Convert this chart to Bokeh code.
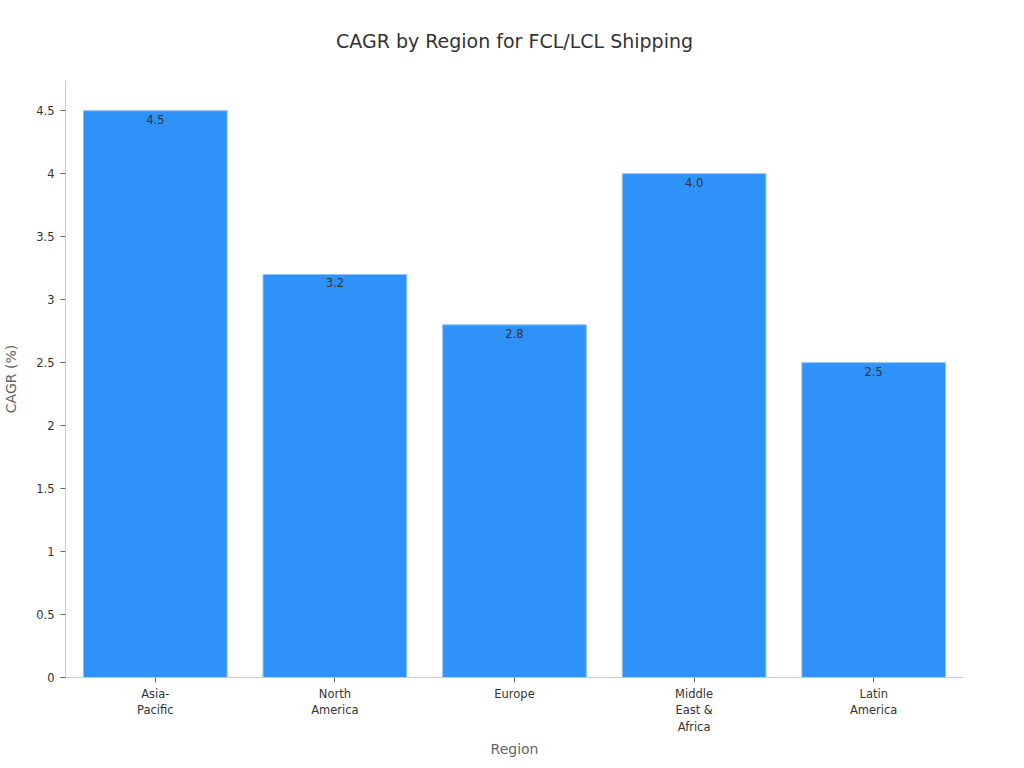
from bokeh.plotting import figure
from bokeh.models import ColumnDataSource, FixedTicker, Range1d
from bokeh.core.properties import value
from bokeh.embed import file_html
from bokeh.resources import INLINE

# data
regions = ["Asia-\nPacific", "North\nAmerica", "Europe", "Middle\nEast &\nAfrica", "Latin\nAmerica"]
cagr = [4.5, 3.2, 2.8, 4.0, 2.5]
cagr_labels = ["4.5", "3.2", "2.8", "4.0", "2.5"]
y_ticks = [0, 0.5, 1, 1.5, 2, 2.5, 3, 3.5, 4, 4.5]
y_tick_labels = ["0", "0.5", "1", "1.5", "2", "2.5", "3", "3.5", "4", "4.5"]

source = ColumnDataSource(data=dict(region=regions, cagr=cagr, label=cagr_labels))

FONT = "DejaVu Sans"

p = figure(
    x_range=regions,
    y_range=Range1d(0, 4.74),
    width=1000, height=760,
    title="CAGR by Region for FCL/LCL Shipping",
    output_backend="svg",
    toolbar_location=None,
    min_border_left=65, min_border_right=37,
    min_border_top=80, min_border_bottom=83,
)
p.x_range.range_padding = 0

p.vbar(x="region", top="cagr", width=0.8, source=source,
       fill_color="#2f92f8", line_color="#8ec2f5", line_width=1)

p.text(x="region", y="cagr", text="label", source=source,
       text_align="center", text_baseline="top", y_offset=4,
       text_font_size="11.5px", text_color="#333333", text_font=value(FONT))

# title
p.title.align = "center"
p.title.vertical_align = "top"
p.title.text_font = FONT
p.title.text_font_size = "19px"
p.title.text_font_style = "normal"
p.title.text_color = "#333333"
p.title.offset = 0
p.title.standoff = 54

# axes
p.xgrid.visible = False
p.ygrid.visible = False
p.outline_line_color = None

p.yaxis.ticker = FixedTicker(ticks=y_ticks)
p.yaxis.major_label_overrides = dict(zip(y_ticks, y_tick_labels))
p.yaxis.minor_tick_line_color = None

for ax in (p.xaxis[0], p.yaxis[0]):
    ax.axis_line_color = "#cccccc"
    ax.major_tick_line_color = "#666666"
    ax.major_tick_in = 0
    ax.major_tick_out = 5
    ax.major_label_text_font = FONT
    ax.major_label_text_font_size = "11.5px"
    ax.major_label_text_color = "#333333"
    ax.axis_label_text_font = FONT
    ax.axis_label_text_font_size = "14px"
    ax.axis_label_text_font_style = "normal"
    ax.axis_label_text_color = "#666666"

p.xaxis.axis_label = "Region"
p.yaxis.axis_label = "CAGR (%)"
p.xaxis.major_label_standoff = 4
p.xaxis.axis_label_standoff = 4
p.yaxis.major_label_standoff = 6
p.yaxis.axis_label_standoff = 14

open("out.html", "w").write(file_html(p, INLINE))
